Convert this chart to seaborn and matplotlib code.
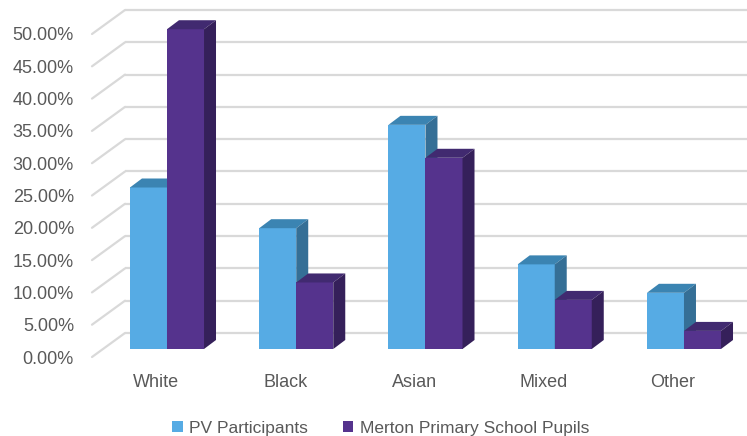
import matplotlib
matplotlib.use('Agg')
import matplotlib.pyplot as plt
from matplotlib.patches import Polygon
import pandas as pd
import seaborn as sns

# Data
groups = ['White', 'Black', 'Asian', 'Mixed', 'Other']
pv_participants = [25.0, 18.7, 34.7, 13.1, 8.7]
merton_pupils = [49.5, 10.3, 29.6, 7.6, 2.8]
series = ['PV Participants', 'Merton Primary School Pupils']
y_ticks = [0, 5, 10, 15, 20, 25, 30, 35, 40, 45, 50]

front_cols = ['#56ABE4', '#55338D']
top_cols = ['#3B84B2', '#412A70']
side_cols = ['#356F96', '#35205A']
grey_txt = '#595959'
grid_col = '#D9D9D9'

df = pd.DataFrame({
    'group': groups * 2,
    'value': pv_participants + merton_pupils,
    'series': [series[0]] * len(groups) + [series[1]] * len(groups),
})

sns.set_style('white')
plt.rcParams['font.family'] = ['Liberation Sans', 'DejaVu Sans']

W, H, DPI = 747, 436, 100
fig = plt.figure(figsize=(W / DPI, H / DPI), dpi=DPI)

# axes = front floor plane of the fake 3d box
ax_left, ax_right, ax_bottom, ax_top = 92, 732, 357, 34
ax = fig.add_axes([ax_left / W, (H - ax_bottom) / H,
                   (ax_right - ax_left) / W, (ax_bottom - ax_top) / H])
px_per_cat = 129.25
x0 = -0.495
x1 = x0 + (ax_right - ax_left) / px_per_cat
px_per_pct = (ax_bottom - ax_top) / 50.0


def px(dx, dy):
    return dx / px_per_cat, dy / px_per_pct


# back wall gridlines + left diagonals
wx, wy = px(33, 24)
for v in y_ticks:
    ax.plot([x0 + wx, x1 + 2], [v + wy, v + wy], color=grid_col, lw=1.6,
            clip_on=False, zorder=0, solid_capstyle='butt')
    ax.plot([x0, x0 + wx], [v, v + wy], color=grid_col, lw=1.6,
            clip_on=False, zorder=0)

sns.barplot(data=df, x='group', y='value', hue='series', hue_order=series,
            palette=front_cols, width=0.573, errorbar=None, ax=ax,
            saturation=1, linewidth=0)
ax.set_xlim(x0, x1)
ax.set_ylim(0, 50)

# shift bars to their plane and add top / side faces
bx, by = px(11, 8)
dx, dy = px(12, 9)
bars = [p for p in ax.patches if p.get_height() > 0]
bars = sorted(bars, key=lambda p: p.get_x())
for i, p in enumerate(bars):
    k = 0 if p.get_facecolor()[1] > 0.4 else 1
    xl = p.get_x() + bx
    w = p.get_width()
    h = p.get_height()
    p.set_x(xl)
    p.set_y(by)
    p.set_clip_on(False)
    z = 2 + i * 0.1
    p.set_zorder(z)
    top = Polygon([(xl, by + h), (xl + w, by + h), (xl + w + dx, by + h + dy),
                   (xl + dx, by + h + dy)], closed=True, facecolor=top_cols[k],
                  edgecolor='none', zorder=z, clip_on=False)
    side = Polygon([(xl + w, by), (xl + w + dx, by + dy),
                    (xl + w + dx, by + h + dy), (xl + w, by + h)], closed=True,
                   facecolor=side_cols[k], edgecolor='none', zorder=z,
                   clip_on=False)
    ax.add_patch(top)
    ax.add_patch(side)

ax.set_yticks(y_ticks)
ax.set_yticklabels([f'{v:.2f}%' for v in y_ticks])
ax.tick_params(axis='y', length=0, pad=13, labelsize=13, labelcolor=grey_txt)
ax.tick_params(axis='x', length=0, pad=12, labelsize=13, labelcolor=grey_txt)
ax.set_xlabel('')
ax.set_ylabel('')
sns.despine(ax=ax, left=True, bottom=True)
ax.patch.set_alpha(0)

sns.move_legend(ax, 'lower center', bbox_to_anchor=(0.51, -0.035),
                bbox_transform=fig.transFigure, ncol=2, frameon=False,
                title=None, fontsize=12.5, handlelength=0.6, handleheight=0.6,
                handletextpad=0.4, columnspacing=2.0)
for t in ax.get_legend().get_texts():
    t.set_color(grey_txt)

fig.savefig('out.png', dpi=DPI)
